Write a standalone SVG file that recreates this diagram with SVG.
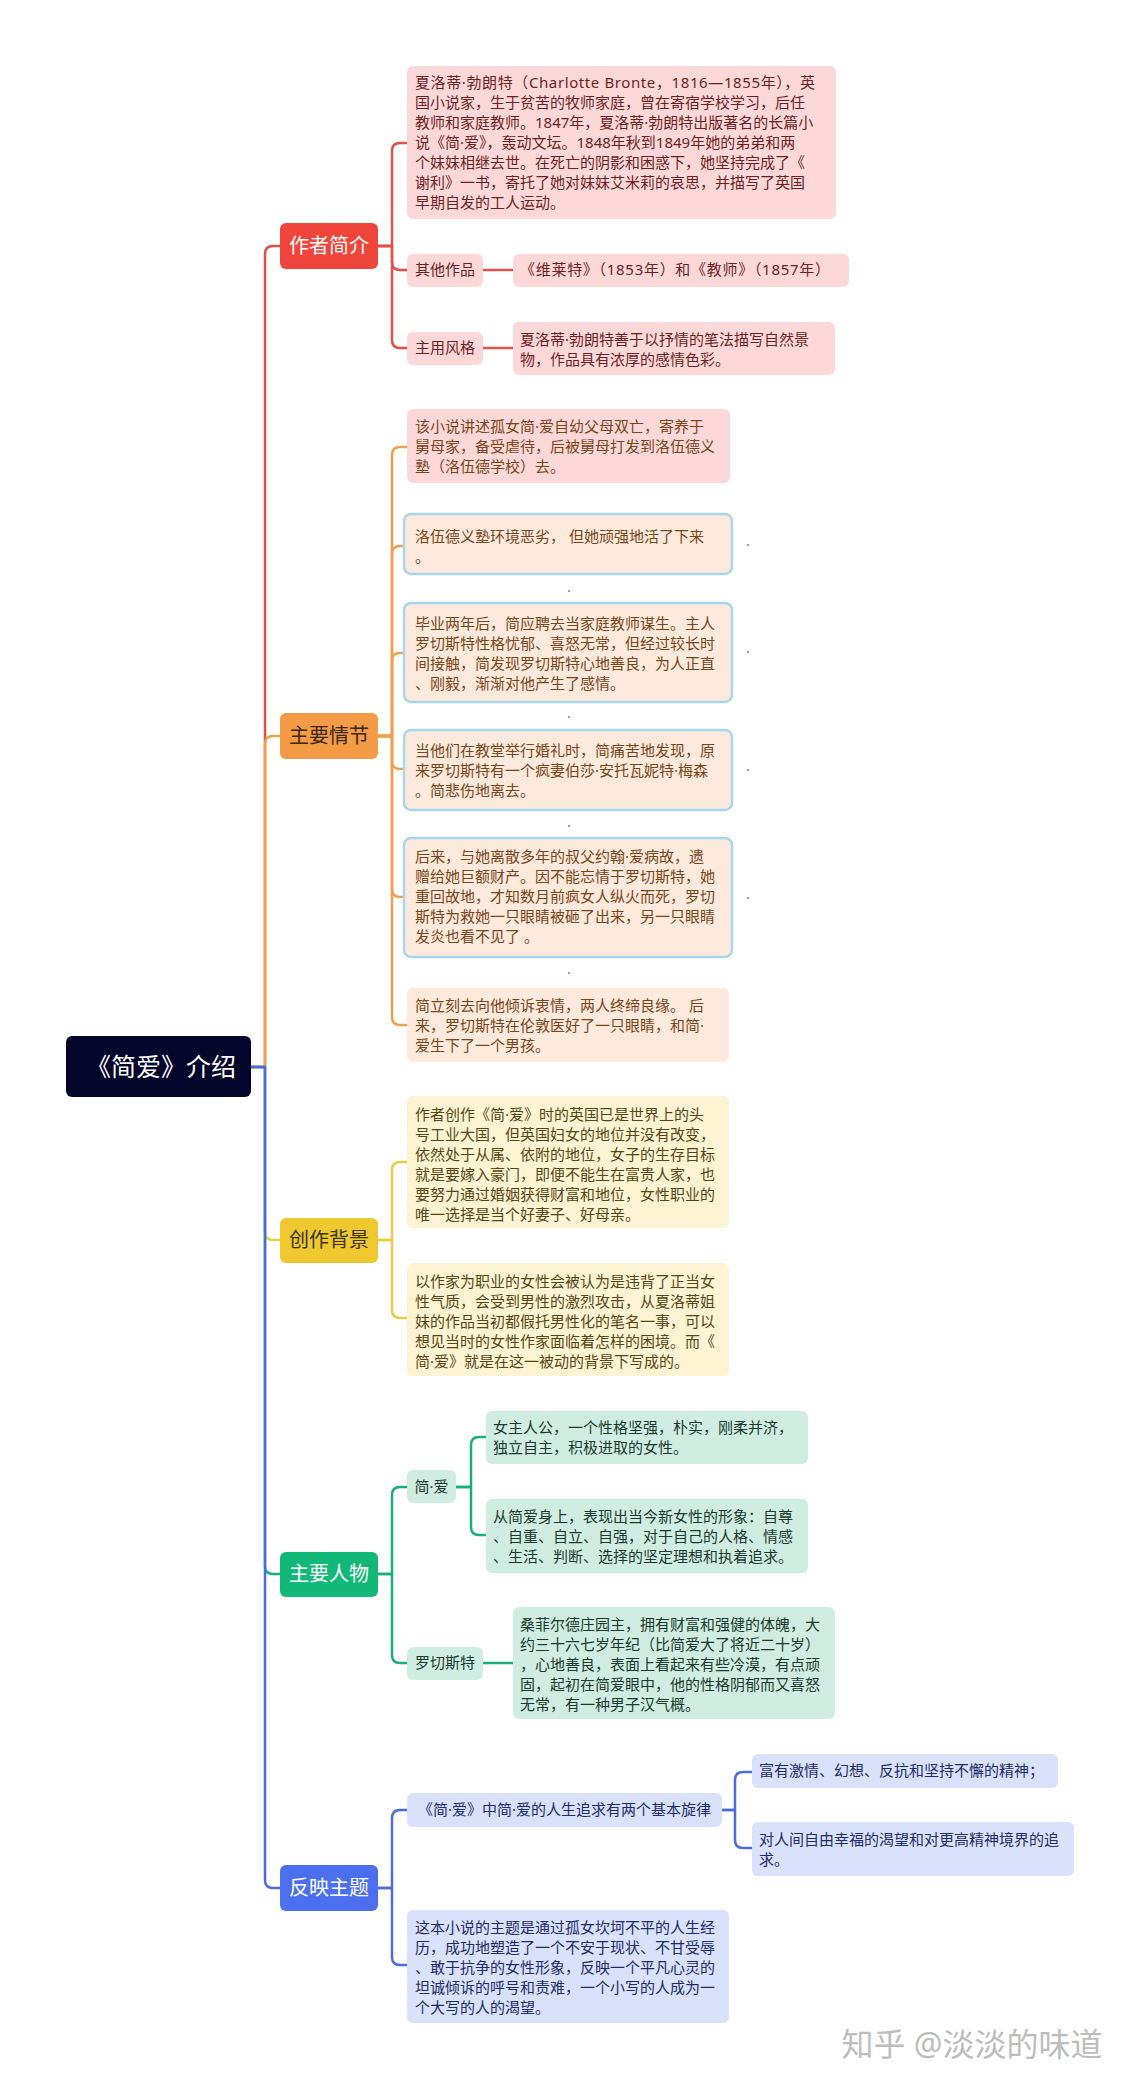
<svg xmlns="http://www.w3.org/2000/svg" width="1140" height="2090" viewBox="0 0 1140 2090">
<style>
text{font-family:"Noto Sans","Noto Sans CJK SC","Microsoft YaHei",sans-serif}
.c{fill:none;stroke-width:2.5;stroke-linecap:round;stroke-linejoin:round}
.cr{stroke:#e2504a}.co{stroke:#f0a04e}.cy{stroke:#ecce44}.cg{stroke:#17b07a}.cb{stroke:#4d6bdf}
.t{font-size:15px}
.b{font-size:20px;text-anchor:middle}
.tr{fill:#6e1f1f}.to{fill:#7a4618}.ty{fill:#584714}.tg{fill:#1b3a2d}.tb{fill:#1f2c6a}
.fr{fill:#fcd8d8}.fp{fill:#fdeadd}.fy{fill:#fdf4d3}.fg{fill:#cfeee1}.fb{fill:#d9e1fb}
.bd{stroke:#a8d6ef;stroke-width:2.5}
.dot{fill:#6a7388}
</style>

<g id="connectors">
  <path class="c cr" d="M251,1067 H265 V254 Q265,246 273,246 H280"/>
  <path class="c co" d="M251,1067 H265 V744 Q265,736 273,736 H280"/>
  <path class="c cy" d="M251,1067 H265 V1232 Q265,1240 273,1240 H280"/>
  <path class="c cg" d="M251,1067 H265 V1566 Q265,1574 273,1574 H280"/>
  <path class="c cb" d="M251,1067 H265 V1880 Q265,1888 273,1888 H280"/>

  <path class="c cr" d="M378,246 H392 V151 Q392,143 400,143 H407"/>
  <path class="c cr" d="M378,246 H392 V262 Q392,270 400,270 H407"/>
  <path class="c cr" d="M378,246 H392 V340 Q392,348 400,348 H407"/>
  <path class="c cr" d="M483,270 H513"/>
  <path class="c cr" d="M483,348 H513"/>

  <path class="c co" d="M378,736 H392 V455 Q392,447 400,447 H407"/>
  <path class="c co" d="M378,736 H392 V554 Q392,546 400,546 H404"/>
  <path class="c co" d="M378,736 H392 V661 Q392,653 400,653 H404"/>
  <path class="c co" d="M378,736 H392 V761 Q392,769 400,769 H404"/>
  <path class="c co" d="M378,736 H392 V889 Q392,897 400,897 H404"/>
  <path class="c co" d="M378,736 H392 V1017 Q392,1025 400,1025 H407"/>

  <path class="c cy" d="M378,1240 H392 V1170 Q392,1162 400,1162 H407"/>
  <path class="c cy" d="M378,1240 H392 V1310 Q392,1318 400,1318 H407"/>

  <path class="c cg" d="M378,1574 H392 V1495 Q392,1487 400,1487 H407"/>
  <path class="c cg" d="M378,1574 H392 V1655 Q392,1663 400,1663 H407"/>
  <path class="c cg" d="M456,1487 H471 V1445 Q471,1437 479,1437 H486"/>
  <path class="c cg" d="M456,1487 H471 V1527 Q471,1535 479,1535 H486"/>
  <path class="c cg" d="M483,1663 H513"/>

  <path class="c cb" d="M378,1888 H392 V1818 Q392,1810 400,1810 H407"/>
  <path class="c cb" d="M378,1888 H392 V1957 Q392,1965 400,1965 H407"/>
  <path class="c cb" d="M722,1810 H735 V1780 Q735,1772 743,1772 H752"/>
  <path class="c cb" d="M722,1810 H735 V1840 Q735,1848 743,1848 H752"/>
</g>

<g id="root">
  <rect x="66" y="1036" width="185" height="61" rx="6" fill="#03052b"/>
  <text x="161" y="1076" font-size="25" fill="#ffffff" text-anchor="middle">《简爱》介绍</text>
</g>

<g id="b-author">
  <rect x="280" y="223" width="98" height="46" rx="6" fill="#ef453b"/>
  <text class="b" x="329" y="253" fill="#ffffff">作者简介</text>
</g>
<g id="b-plot">
  <rect x="280" y="713" width="98" height="46" rx="6" fill="#f39b45"/>
  <text class="b" x="329" y="743" fill="#3b2610">主要情节</text>
</g>
<g id="b-bg">
  <rect x="280" y="1218" width="98" height="45" rx="6" fill="#eec82e"/>
  <text class="b" x="329" y="1247" fill="#3d3410">创作背景</text>
</g>
<g id="b-char">
  <rect x="280" y="1552" width="98" height="45" rx="6" fill="#12b877"/>
  <text class="b" x="329" y="1581" fill="#ffffff">主要人物</text>
</g>
<g id="b-theme">
  <rect x="280" y="1865" width="98" height="46" rx="6" fill="#4c6ff0"/>
  <text class="b" x="329" y="1895" fill="#ffffff">反映主题</text>
</g>

<g id="a-bio">
  <rect class="fr" x="407" y="66" width="429" height="153" rx="6"/>
  <text class="t tr" x="415" y="88" textLength="400" lengthAdjust="spacing">夏洛蒂·勃朗特（Charlotte Bronte，1816—1855年），英</text>
  <text class="t tr" x="415" y="108">国小说家，生于贫苦的牧师家庭，曾在寄宿学校学习，后任</text>
  <text class="t tr" x="415" y="128">教师和家庭教师。1847年，夏洛蒂·勃朗特出版著名的长篇小</text>
  <text class="t tr" x="415" y="148">说《简·爱》，轰动文坛。1848年秋到1849年她的弟弟和两</text>
  <text class="t tr" x="415" y="168">个妹妹相继去世。在死亡的阴影和困惑下，她坚持完成了《</text>
  <text class="t tr" x="415" y="188">谢利》一书，寄托了她对妹妹艾米莉的哀思，并描写了英国</text>
  <text class="t tr" x="415" y="208">早期自发的工人运动。</text>
</g>
<g id="a-works-label">
  <rect class="fr" x="407" y="254" width="76" height="33" rx="6"/>
  <text class="t tr" x="445" y="275" text-anchor="middle">其他作品</text>
</g>
<g id="a-works">
  <rect class="fr" x="513" y="254" width="336" height="33" rx="6"/>
  <text class="t tr" x="520" y="275" textLength="310" lengthAdjust="spacing">《维莱特》（1853年）和《教师》（1857年）</text>
</g>
<g id="a-style-label">
  <rect class="fr" x="407" y="332" width="76" height="33" rx="6"/>
  <text class="t tr" x="445" y="353" text-anchor="middle">主用风格</text>
</g>
<g id="a-style">
  <rect class="fr" x="513" y="322" width="322" height="53" rx="6"/>
  <text class="t tr" x="520" y="345">夏洛蒂·勃朗特善于以抒情的笔法描写自然景</text>
  <text class="t tr" x="520" y="365">物，作品具有浓厚的感情色彩。</text>
</g>

<g id="p1">
  <rect class="fr" x="407" y="409" width="323" height="74" rx="6"/>
  <text class="t to" x="415" y="432">该小说讲述孤女简·爱自幼父母双亡，寄养于</text>
  <text class="t to" x="415" y="452">舅母家，备受虐待，后被舅母打发到洛伍德义</text>
  <text class="t to" x="415" y="472">塾（洛伍德学校）去。</text>
</g>
<g id="p2">
  <rect class="fp bd" x="404" y="514" width="328" height="60" rx="7"/>
  <text class="t to" x="415" y="542">洛伍德义塾环境恶劣， 但她顽强地活了下来</text>
  <text class="t to" x="415" y="562">。</text>
</g>
<g id="p3">
  <rect class="fp bd" x="404" y="603" width="328" height="99" rx="7"/>
  <text class="t to" x="415" y="629">毕业两年后，简应聘去当家庭教师谋生。主人</text>
  <text class="t to" x="415" y="649">罗切斯特性格忧郁、喜怒无常，但经过较长时</text>
  <text class="t to" x="415" y="669">间接触，简发现罗切斯特心地善良，为人正直</text>
  <text class="t to" x="415" y="689">、刚毅，渐渐对他产生了感情。</text>
</g>
<g id="p4">
  <rect class="fp bd" x="404" y="730" width="328" height="80" rx="7"/>
  <text class="t to" x="415" y="756">当他们在教堂举行婚礼时，简痛苦地发现，原</text>
  <text class="t to" x="415" y="776">来罗切斯特有一个疯妻伯莎·安托瓦妮特·梅森</text>
  <text class="t to" x="415" y="796">。简悲伤地离去。</text>
</g>
<g id="p5">
  <rect class="fp bd" x="404" y="838" width="328" height="119" rx="7"/>
  <text class="t to" x="415" y="862">后来，与她离散多年的叔父约翰·爱病故，遗</text>
  <text class="t to" x="415" y="882">赠给她巨额财产。因不能忘情于罗切斯特，她</text>
  <text class="t to" x="415" y="902">重回故地，才知数月前疯女人纵火而死，罗切</text>
  <text class="t to" x="415" y="922">斯特为救她一只眼睛被砸了出来，另一只眼睛</text>
  <text class="t to" x="415" y="942">发炎也看不见了 。</text>
</g>
<g id="p6">
  <rect class="fp" x="407" y="988" width="322" height="74" rx="6"/>
  <text class="t to" x="415" y="1011">简立刻去向他倾诉衷情，两人终缔良缘。 后</text>
  <text class="t to" x="415" y="1031">来，罗切斯特在伦敦医好了一只眼睛，和简·</text>
  <text class="t to" x="415" y="1051">爱生下了一个男孩。</text>
</g>
<g id="dots">
  <circle class="dot" cx="748" cy="545" r="0.9"/>
  <circle class="dot" cx="569" cy="591" r="0.9"/>
  <circle class="dot" cx="748" cy="652" r="0.9"/>
  <circle class="dot" cx="569" cy="717" r="0.9"/>
  <circle class="dot" cx="748" cy="770" r="0.9"/>
  <circle class="dot" cx="569" cy="826" r="0.9"/>
  <circle class="dot" cx="748" cy="898" r="0.9"/>
  <circle class="dot" cx="569" cy="973" r="0.9"/>
</g>

<g id="bg1">
  <rect class="fy" x="407" y="1096" width="322" height="132" rx="6"/>
  <text class="t ty" x="415" y="1120">作者创作《简·爱》时的英国已是世界上的头</text>
  <text class="t ty" x="415" y="1140">号工业大国，但英国妇女的地位并没有改变，</text>
  <text class="t ty" x="415" y="1160">依然处于从属、依附的地位，女子的生存目标</text>
  <text class="t ty" x="415" y="1180">就是要嫁入豪门，即便不能生在富贵人家，也</text>
  <text class="t ty" x="415" y="1200">要努力通过婚姻获得财富和地位，女性职业的</text>
  <text class="t ty" x="415" y="1220">唯一选择是当个好妻子、好母亲。</text>
</g>
<g id="bg2">
  <rect class="fy" x="407" y="1263" width="322" height="113" rx="6"/>
  <text class="t ty" x="415" y="1287">以作家为职业的女性会被认为是违背了正当女</text>
  <text class="t ty" x="415" y="1307">性气质，会受到男性的激烈攻击，从夏洛蒂姐</text>
  <text class="t ty" x="415" y="1327">妹的作品当初都假托男性化的笔名一事，可以</text>
  <text class="t ty" x="415" y="1347">想见当时的女性作家面临着怎样的困境。而《</text>
  <text class="t ty" x="415" y="1367">简·爱》就是在这一被动的背景下写成的。</text>
</g>

<g id="c-jane">
  <rect class="fg" x="407" y="1470" width="49" height="33" rx="6"/>
  <text class="t tg" x="431.5" y="1492" text-anchor="middle">简·爱</text>
</g>
<g id="c-jane1">
  <rect class="fg" x="486" y="1411" width="322" height="53" rx="6"/>
  <text class="t tg" x="493" y="1433">女主人公，一个性格坚强，朴实，刚柔并济，</text>
  <text class="t tg" x="493" y="1453">独立自主，积极进取的女性。</text>
</g>
<g id="c-jane2">
  <rect class="fg" x="486" y="1499" width="322" height="74" rx="6"/>
  <text class="t tg" x="493" y="1522">从简爱身上，表现出当今新女性的形象：自尊</text>
  <text class="t tg" x="493" y="1542">、自重、自立、自强，对于自己的人格、情感</text>
  <text class="t tg" x="493" y="1562">、生活、判断、选择的坚定理想和执着追求。</text>
</g>
<g id="c-roch">
  <rect class="fg" x="407" y="1647" width="76" height="33" rx="6"/>
  <text class="t tg" x="445" y="1668" text-anchor="middle">罗切斯特</text>
</g>
<g id="c-roch1">
  <rect class="fg" x="513" y="1607" width="322" height="112" rx="6"/>
  <text class="t tg" x="520" y="1630">桑菲尔德庄园主，拥有财富和强健的体魄，大</text>
  <text class="t tg" x="520" y="1650">约三十六七岁年纪（比简爱大了将近二十岁）</text>
  <text class="t tg" x="520" y="1670">，心地善良，表面上看起来有些冷漠，有点顽</text>
  <text class="t tg" x="520" y="1690">固，起初在简爱眼中，他的性格阴郁而又喜怒</text>
  <text class="t tg" x="520" y="1710">无常，有一种男子汉气概。</text>
</g>

<g id="t-melody">
  <rect class="fb" x="407" y="1793" width="315" height="34" rx="6"/>
  <text class="t tb" x="564.5" y="1815" text-anchor="middle">《简·爱》中简·爱的人生追求有两个基本旋律</text>
</g>
<g id="t-m1">
  <rect class="fb" x="752" y="1754" width="306" height="34" rx="6"/>
  <text class="t tb" x="759" y="1776">富有激情、幻想、反抗和坚持不懈的精神；</text>
</g>
<g id="t-m2">
  <rect class="fb" x="752" y="1822" width="322" height="54" rx="6"/>
  <text class="t tb" x="759" y="1845">对人间自由幸福的渴望和对更高精神境界的追</text>
  <text class="t tb" x="759" y="1865">求。</text>
</g>
<g id="t-theme">
  <rect class="fb" x="407" y="1910" width="322" height="113" rx="6"/>
  <text class="t tb" x="415" y="1933">这本小说的主题是通过孤女坎坷不平的人生经</text>
  <text class="t tb" x="415" y="1953">历，成功地塑造了一个不安于现状、不甘受辱</text>
  <text class="t tb" x="415" y="1973">、敢于抗争的女性形象，反映一个平凡心灵的</text>
  <text class="t tb" x="415" y="1993">坦诚倾诉的呼号和责难，一个小写的人成为一</text>
  <text class="t tb" x="415" y="2013">个大写的人的渴望。</text>
</g>

<text x="972" y="2056" font-size="32" fill="#bdbdbd" text-anchor="middle">知乎 @淡淡的味道</text>
</svg>
